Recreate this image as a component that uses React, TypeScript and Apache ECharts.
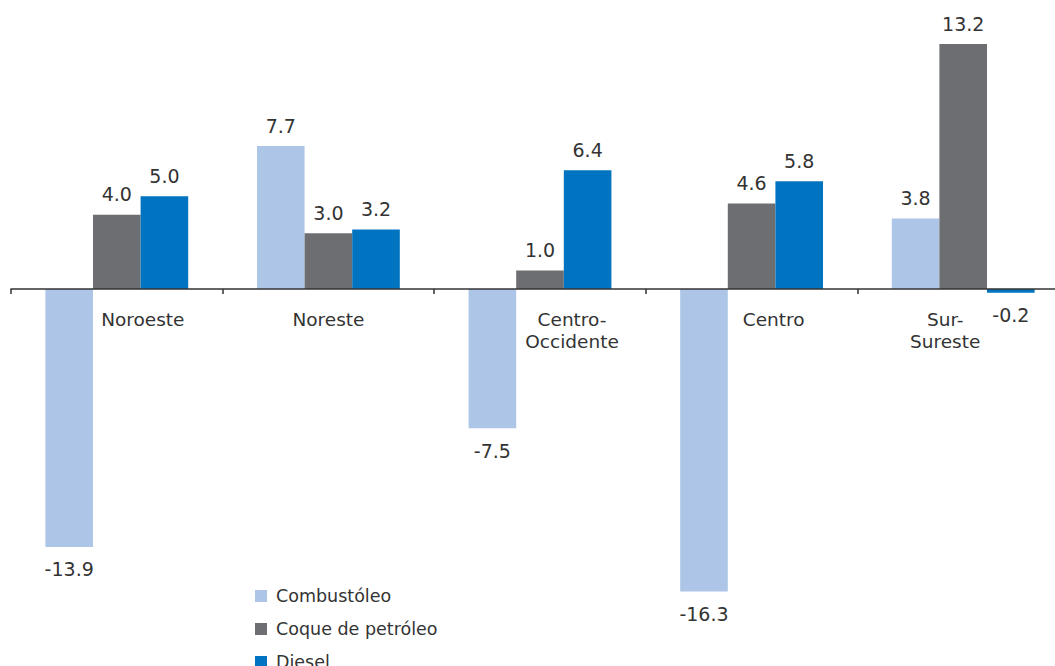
import React, { useEffect, useRef } from "react";
import * as echarts from "echarts";

const categories = ["Noroeste", "Noreste", "Centro-\nOccidente", "Centro", "Sur-\nSureste"];
// horizontal shift of each category label (px, positive = right)
const labelShift = [26, 0, 32, 22, -18];
const seriesNames = ["Combustóleo", "Coque de petróleo", "Diesel"];
const combustoleo = [-13.9, 7.7, -7.5, -16.3, 3.8];
const coque = [4.0, 3.0, 1.0, 4.6, 13.2];
const diesel = [5.0, 3.2, 6.4, 5.8, -0.2];
const colors = ["#ADC6E8", "#6D6E71", "#0074C1"];

const Y_MIN = -20;
const Y_MAX = 15;
const GRID_TOP = 10.6;
const GRID_HEIGHT = 649.6;

const FONT = "DejaVu Sans";
const TEXT = "#333333";

export default function App() {
  const ref = useRef<HTMLDivElement>(null);
  useEffect(() => {
    if (!ref.current) return;
    const chart = echarts.init(ref.current, undefined, { renderer: "svg" });
    const mk = (arr: number[]) =>
      arr.map((v) => ({
        value: v,
        label: { position: v < 0 ? "bottom" : "top", distance: v < 0 ? 13 : 11 },
      }));
    const seriesData = [combustoleo, coque, diesel];
    // move the bottom axis (line, ticks and labels) up to the zero line
    const zeroOffset = -(GRID_HEIGHT * (0 - Y_MIN)) / (Y_MAX - Y_MIN);
    chart.setOption({
      animation: false,
      backgroundColor: "#ffffff",
      textStyle: { fontFamily: FONT, color: TEXT },
      grid: {
        left: 11,
        top: GRID_TOP,
        width: 1058,
        height: GRID_HEIGHT,
        containLabel: false,
        outerBoundsMode: "none",
      },
      legend: {
        orient: "vertical",
        left: 250,
        top: 581,
        height: 120,
        itemWidth: 12,
        itemHeight: 12,
        itemGap: 13,
        icon: "rect",
        data: seriesNames,
        textStyle: {
          fontFamily: FONT,
          fontSize: 17.5,
          color: TEXT,
          lineHeight: 20,
          padding: [0, 0, 0, 4],
        },
      },
      xAxis: {
        type: "category",
        z: 5,
        position: "bottom",
        offset: zeroOffset,
        data: categories.map((c, i) => ({
          value: c,
          textStyle: {
            padding:
              labelShift[i] >= 0
                ? [0, 0, 0, labelShift[i] * 2]
                : [0, -labelShift[i] * 2, 0, 0],
          },
        })),
        axisLine: { show: true, onZero: false, lineStyle: { color: "#333333", width: 1.5 } },
        axisTick: { show: true, length: 5, lineStyle: { color: "#333333", width: 1.5 } },
        axisLabel: {
          interval: 0,
          margin: 19,
          fontFamily: FONT,
          fontSize: 18.5,
          lineHeight: 22,
          color: TEXT,
        },
        splitLine: { show: false },
      },
      yAxis: {
        type: "value",
        min: Y_MIN,
        max: Y_MAX,
        show: false,
        splitLine: { show: false },
      },
      series: seriesNames.map((name, i) => ({
        name,
        type: "bar",
        barGap: "0%",
        barCategoryGap: "32.5%",
        itemStyle: { color: colors[i] },
        data: mk(seriesData[i]),
        label: {
          show: true,
          fontFamily: FONT,
          fontSize: 19,
          color: TEXT,
          formatter: (p: any) => Number(p.value).toFixed(1),
        },
      })),
    });
    return () => chart.dispose();
  }, []);
  return (
    <div
      ref={ref}
      style={{ position: "absolute", left: 0, top: 0, width: 1055, height: 666 }}
    />
  );
}
